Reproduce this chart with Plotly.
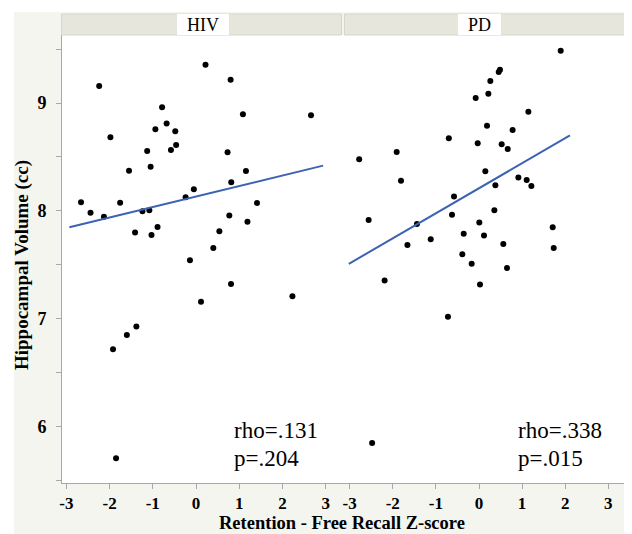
import plotly.graph_objects as go
from plotly.subplots import make_subplots

# ---- data ----
panels = ["HIV", "PD"]

hiv_x = [0.22, 0.80, -2.24, -0.785, 1.085, 2.66, -0.68, -0.94, -0.48, -1.98, -0.46,
         -1.13, -0.58, 0.73, -1.05, -1.55, 1.155, 0.815, -0.05, -0.24, -2.66, -1.755,
         1.41, -2.44, -1.24, -1.08, -2.13, 0.77, 1.19, -1.41, -0.89, 0.54, -1.03,
         0.40, -0.14, 0.81, 0.115, 2.23, -1.38, -1.60, -1.92, -1.85]
hiv_y = [9.355, 9.216, 9.157, 8.96, 8.895, 8.886, 8.81, 8.756, 8.738, 8.682, 8.611,
         8.556, 8.565, 8.543, 8.41, 8.373, 8.37, 8.266, 8.20, 8.127, 8.08, 8.077,
         8.074, 7.984, 7.997, 8.006, 7.947, 7.957, 7.90, 7.80, 7.852, 7.812, 7.778,
         7.657, 7.543, 7.324, 7.16, 7.21, 6.93, 6.85, 6.72, 5.71]

pd_x = [1.895, 0.487, 0.457, 0.263, 0.217, -0.077, 1.145, 0.186, 0.78, -0.70, -0.03,
        0.526, 0.666, -1.91, -2.78, 0.147, -1.81, 0.913, 1.106, 1.215, 0.38, -0.58,
        0.356, -0.626, -2.56, -1.44, 0.007, 1.71, -0.355, 0.116, -1.12,
        -1.66, 0.564, 1.733, -0.387, -0.17, 0.65, -2.19, 0.023, -0.72, -2.48]
pd_y = [9.484, 9.309, 9.287, 9.204, 9.086, 9.046, 8.92, 8.79, 8.75, 8.673, 8.627,
        8.617, 8.574, 8.546, 8.478, 8.367, 8.281, 8.309, 8.287, 8.231, 8.238, 8.133,
        8.006, 7.966, 7.917, 7.88, 7.892, 7.85, 7.79, 7.772, 7.738,
        7.685, 7.694, 7.657, 7.599, 7.512, 7.472, 7.355, 7.318, 7.02, 5.85]

hiv_fit_x = [-2.93, 2.94]
hiv_fit_y = [7.849, 8.42]
pd_fit_x = [-3.02, 2.11]
pd_fit_y = [7.51, 8.70]

stats_hiv = ["rho=.131", "p=.204"]
stats_pd = ["rho=.338", "p=.015"]

x_ticks = [-3, -2, -1, 0, 1, 2, 3]
y_ticks = [6, 7, 8, 9]

# ---- figure ----
SERIF = "Liberation Serif, Times New Roman, serif"
BG = "#f5f5f0"
AXC = "#a8a8a8"
BLUE = "#3d62b3"

# the page body adds an 8px offset; the figure is sized to fit the window
OFF = 8
W, H = 632 - OFF, 534 - OFF
L, R, T, B = 62 - OFF, 7, 35 - OFF, 51
PW, PH = W - L - R, H - T - B


def xp(px):  # reference-window pixel -> paper
    return (px - 62) / PW


def yp(py):
    return (483 - py) / PH


fig = make_subplots(rows=1, cols=2, shared_yaxes=True, horizontal_spacing=0)

for col, (xs, ys, fx, fy) in enumerate(
        [(hiv_x, hiv_y, hiv_fit_x, hiv_fit_y), (pd_x, pd_y, pd_fit_x, pd_fit_y)], start=1):
    fig.add_trace(go.Scatter(x=xs, y=ys, mode="markers",
                             marker=dict(color="black", size=6),
                             showlegend=False, hoverinfo="skip"), row=1, col=col)
    fig.add_trace(go.Scatter(x=fx, y=fy, mode="lines",
                             line=dict(color=BLUE, width=2),
                             showlegend=False, hoverinfo="skip"), row=1, col=col)

split = xp(343)
xaxis_common = dict(tickmode="array", tickvals=x_ticks,
                    ticktext=["<b>%d</b>" % v for v in x_ticks],
                    ticks="outside", ticklen=5, tickcolor=AXC, showline=True, linecolor=AXC,
                    linewidth=1, showgrid=False, zeroline=False, ticklabelstandoff=0,
                    tickfont=dict(family=SERIF, size=17, color="black"))
fig.update_layout(
    xaxis=dict(domain=[0, split], range=[-3.1, 3.4], **xaxis_common),
    xaxis2=dict(domain=[split, 1], range=[-3.155, 3.387], **xaxis_common),
    yaxis=dict(range=[5.48, 9.63], tickmode="array", tickvals=y_ticks,
               ticktext=["<b>%d</b>" % v for v in y_ticks],
               ticks="outside", ticklen=5, tickcolor=AXC, showline=True, linecolor=AXC,
               linewidth=1, showgrid=False, zeroline=False, ticklabelstandoff=6,
               minor=dict(dtick=0.5, ticks="outside", ticklen=5, tickcolor=AXC, showgrid=False),
               tickfont=dict(family=SERIF, size=18, color="black")),
    yaxis2=dict(showline=False, ticks="", showgrid=False, zeroline=False),
    width=W, height=H,
    margin=dict(l=L, r=R, t=T, b=B, pad=0),
    paper_bgcolor=BG, plot_bgcolor="white",
    showlegend=False,
)

shapes = [
    # white outer band (top and left)
    dict(type="rect", xref="paper", yref="paper", x0=-0.2, x1=1.1, y0=yp(12), y1=1.3,
         fillcolor="white", line=dict(width=0), layer="below"),
    dict(type="rect", xref="paper", yref="paper", x0=-0.2, x1=xp(14), y0=-0.3, y1=1.3,
         fillcolor="white", line=dict(width=0), layer="below"),
    # strips
    dict(type="rect", xref="paper", yref="paper", x0=xp(61.5), x1=xp(341.5), y0=1.0, y1=yp(14),
         fillcolor="#e6e6dd", line=dict(color="#d6d6ca", width=1)),
    dict(type="rect", xref="paper", yref="paper", x0=xp(344.5), x1=xp(624.5), y0=1.0, y1=yp(14),
         fillcolor="#e6e6dd", line=dict(color="#d6d6ca", width=1)),
    dict(type="rect", xref="paper", yref="paper", x0=xp(177), x1=xp(229), y0=1.0, y1=yp(14),
         fillcolor="white", line=dict(width=0)),
    dict(type="rect", xref="paper", yref="paper", x0=xp(458), x1=xp(501), y0=1.0, y1=yp(14),
         fillcolor="white", line=dict(width=0)),
    # right border
    dict(type="line", xref="paper", yref="paper", x0=1, x1=1, y0=0, y1=1,
         line=dict(color="#c8c8c8", width=2)),
]
fig.update_layout(shapes=shapes)

ann = []
for label, cx in zip(panels, [203, 479.5]):
    ann.append(dict(text=label, xref="paper", yref="paper", x=xp(cx), y=yp(24.5),
                    xanchor="center", yanchor="middle", showarrow=False,
                    font=dict(family=SERIF, size=18, color="black")))
for lines, lx in [(stats_hiv, 232), (stats_pd, 515.5)]:
    for txt, cy in zip(lines, [430.5, 458]):
        ann.append(dict(text=txt, xref="paper", yref="paper", x=xp(lx), y=yp(cy),
                        xanchor="left", yanchor="middle", showarrow=False,
                        font=dict(family=SERIF, size=23, color="black")))
ann.append(dict(text="<b>Retention - Free Recall Z-score</b>", xref="paper", yref="paper",
                x=xp(342), y=yp(523), xanchor="center", yanchor="middle", showarrow=False,
                font=dict(family=SERIF, size=18.5, color="black")))
ann.append(dict(text="<b>Hippocampal Volume (cc)</b>", xref="paper", yref="paper",
                x=xp(22), y=yp(265), xanchor="center", yanchor="middle", showarrow=False,
                textangle=-90, font=dict(family=SERIF, size=19, color="black")))
fig.update_layout(annotations=ann)

fig.write_html("out.html")
